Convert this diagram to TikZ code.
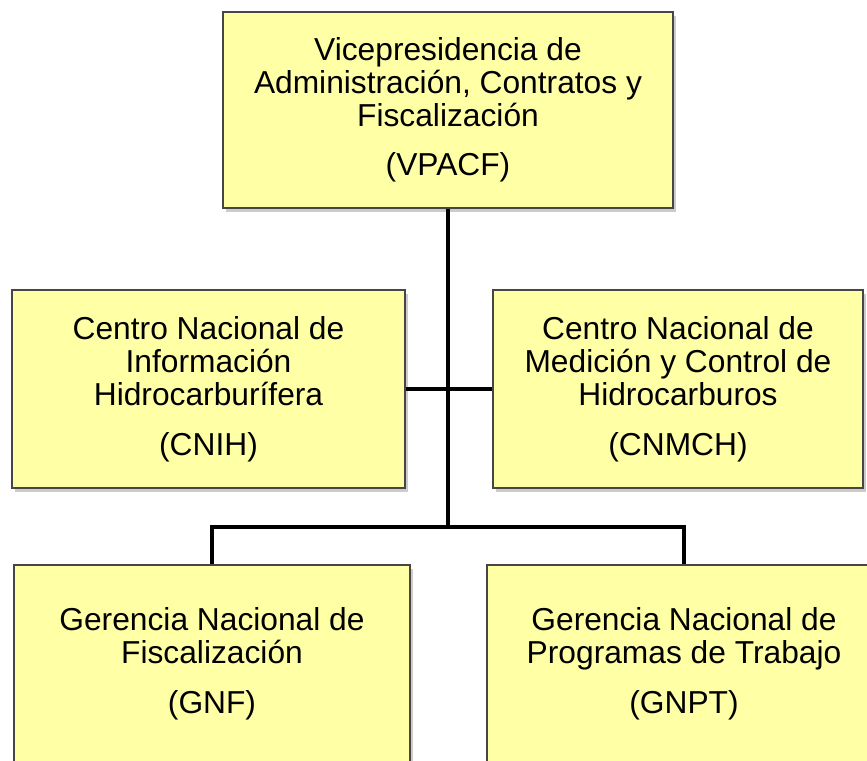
\documentclass[tikz,border=0pt]{standalone}
\usepackage{fontspec}
\setmainfont{Liberation Sans}
\usetikzlibrary{shadows}
\definecolor{boxfill}{RGB}{255,255,166}
\definecolor{boxline}{RGB}{70,70,70}

\begin{document}
\begin{tikzpicture}[x=0.75pt,y=-0.75pt,
  unit/.style={draw=boxline,line width=2.2pt,fill=boxfill,align=center,
    inner sep=0pt,font=\fontsize{23.8}{24.8}\selectfont,
    drop shadow={shadow xshift=2.5pt,shadow yshift=-3pt,opacity=0.4}},
  link/.style={line width=3pt,line join=miter}]
  \useasboundingbox (0,0) rectangle (867,760);
  \clip (0,0) rectangle (867,760);

  % Units
  \node[unit,minimum width=337.5pt,minimum height=147pt] (VPACF) at (448,110)
    {Vicepresidencia de\\Administración, Contratos y\\Fiscalización\\[12pt](VPACF)};
  \node[unit,minimum width=294.75pt,minimum height=148.5pt] (CNIH) at (208.5,389)
    {Centro Nacional de\\Información\\Hidrocarburífera\\[12.75pt](CNIH)};
  \node[unit,minimum width=277.5pt,minimum height=148.5pt] (CNMCH) at (678,389)
    {Centro Nacional de\\Medición y Control de\\Hidrocarburos\\[12.75pt](CNMCH)};
  \node[unit,minimum width=297pt,minimum height=148.5pt] (GNF) at (212,664)
    {Gerencia Nacional de\\Fiscalización\\[12.75pt](GNF)};
  \node[unit,minimum width=295.5pt,minimum height=148.5pt] (GNPT) at (684,664)
    {Gerencia Nacional de\\Programas de Trabajo\\[12.75pt](GNPT)};

  % Junction below the centres
  \coordinate (junc) at (448,527);

  % Lines
  \draw[link] (VPACF.south) -- (junc);
  \draw[link] (CNIH.east) -- (CNMCH.west);
  \draw[link] (GNF.north) |- (junc) -| (GNPT.north);

\end{tikzpicture}
\end{document}
